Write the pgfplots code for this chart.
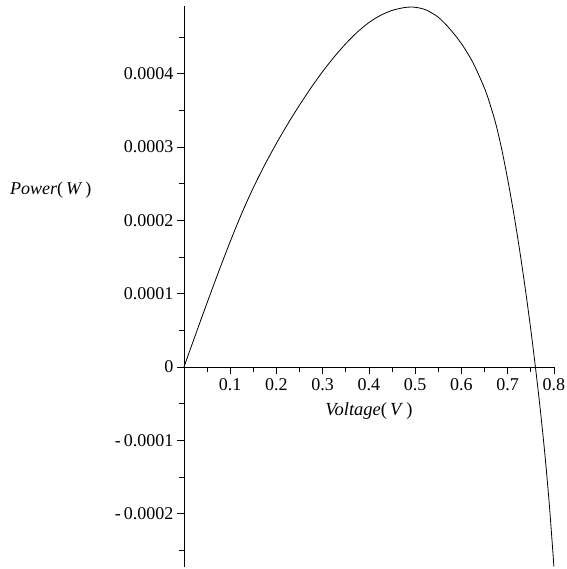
\documentclass[border=0pt]{standalone}
\usepackage{fontspec}
\setmainfont{Liberation Serif}
\usepackage{pgfplots}
\pgfplotsset{compat=1.18}
\begin{document}
\begin{tikzpicture}
\begin{axis}[
    scale only axis, width=370pt, height=561pt,
    xmin=0, xmax=0.8, ymin=-0.000273, ymax=0.000492,
    axis lines=middle, axis line style={-, line width=0.8pt},
    clip=false,
    xtick={0.1,0.2,0.3,0.4,0.5,0.6,0.7,0.8},
    xticklabels={0.1,0.2,0.3,0.4,0.5,0.6,0.7,0.8},
    minor xtick={0.05,0.15,0.25,0.35,0.45,0.55,0.65,0.75},
    ytick={-0.0002,-0.0001,0,0.0001,0.0002,0.0003,0.0004},
    yticklabels={-\,0.0002,-\,0.0001,0,0.0001,0.0002,0.0003,0.0004},
    minor ytick={-0.00025,-0.00015,-0.00005,0.00005,0.00015,0.00025,0.00035,0.00045},
    hide obscured x ticks=false, hide obscured y ticks=false,
    tick align=outside, major tick length=7pt, minor tick length=5pt,
    tick style={black, line width=0.8pt},
    ticklabel style={font=\fontsize{18}{20}\selectfont},
    xticklabel style={yshift=-1pt},
    scaled y ticks=false,
]
\addplot[black, line width=0.8pt, smooth] coordinates {
(0,0) (0.025,0.44e-4) (0.05,0.875e-4) (0.075,1.30e-4) (0.10,1.71e-4)
(0.125,2.095e-4) (0.15,2.445e-4) (0.175,2.76e-4) (0.20,3.05e-4)
(0.225,3.32e-4) (0.25,3.5725e-4) (0.275,3.81e-4) (0.30,4.03e-4)
(0.325,4.23e-4) (0.35,4.41e-4) (0.375,4.5675e-4) (0.40,4.6975e-4)
(0.425,4.795e-4) (0.45,4.8625e-4) (0.475,4.90e-4) (0.49,4.909e-4)
(0.50,4.905e-4) (0.51,4.895e-4) (0.525,4.865e-4) (0.55,4.77e-4)
(0.575,4.61e-4) (0.60,4.41e-4) (0.625,4.15e-4) (0.65,3.80e-4)
(0.6625,3.57e-4) (0.675,3.30e-4) (0.6875,2.96e-4) (0.70,2.56e-4)
(0.71,2.21e-4) (0.72,1.83e-4)
(0.73,1.42e-4) (0.74,0.98e-4) (0.75,0.51e-4) (0.76,0)
(0.77,-0.55e-4) (0.78,-1.16e-4) (0.79,-1.87e-4) (0.80,-2.72e-4)
};
\node[font=\fontsize{18.5}{20}\selectfont] at (axis cs:0.4,0) [yshift=-44pt]
    {\textit{Voltage}(\,\textit{V}\,)};
\node[font=\fontsize{18}{20}\selectfont] at (axis cs:-0.288,0.000241)
    {\textit{Power}(\,\textit{W}\,)};
\coordinate (bl) at (axis cs:-0.3978,-0.0002755);
\coordinate (tr) at (axis cs:0.8265,0.0005005);
\end{axis}
\pgfresetboundingbox
\path (bl) rectangle (tr);
\end{tikzpicture}
\end{document}
